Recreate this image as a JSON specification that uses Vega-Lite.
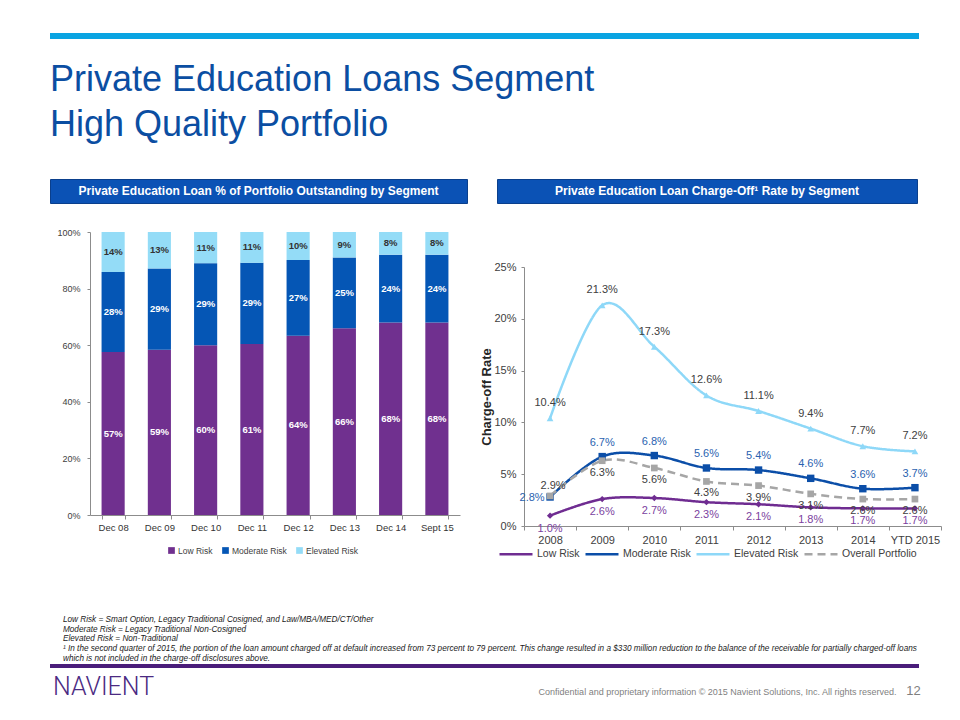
{
  "$schema": "https://vega.github.io/schema/vega-lite/v6.json",
  "background": "white",
  "padding": {"left": 49, "top": 30, "right": 5, "bottom": 0},
  "config": {
    "font": "Liberation Sans",
    "view": {"stroke": null},
    "axis": {"grid": false, "domainColor": "#8C8C8C", "tickColor": "#8C8C8C", "labelColor": "#404040", "titleColor": "#262626", "tickSize": 3},
    "legend": {"labelColor": "#404040"}
  },
  "columns": 1,
  "spacing": 30,
  "concat": [
    {
      "width": 869,
      "height": 6,
      "view": {"fill": "#0AA4E2", "stroke": null},
      "data": {"values": [{}]},
      "mark": {"type": "text"},
      "encoding": {"text": {"value": ""}},
      "title": {
        "text": ["Private Education Loans Segment", "High Quality Portfolio"],
        "orient": "bottom",
        "anchor": "start",
        "fontSize": 36,
        "fontWeight": "normal",
        "font": "Liberation Sans",
        "color": "#0B4EA2",
        "lineHeight": 45,
        "offset": 22,
        "baseline": "top"
      }
    },
    {
      "columns": 1,
      "spacing": 55,
      "concat": [
        {
          "spacing": 0,
          "hconcat": [
            {
              "columns": 1,
              "spacing": 22,
              "concat": [
                {
                  "width": 417,
                  "height": 24,
                  "view": {"fill": "#0B52B5", "stroke": "#0A3F8C"},
                  "data": {"values": [{"t": "Private Education Loan % of Portfolio Outstanding by Segment"}]},
                  "mark": {"type": "text", "color": "white", "fontWeight": "bold", "fontSize": 12, "font": "Liberation Sans"},
                  "encoding": {"text": {"field": "t", "type": "nominal"}}
                },
                {
                  "spacing": 5,
                  "resolve": {"scale": {"color": "independent"}, "legend": {"color": "independent"}},
                  "hconcat": [
                    {
                      "width": 1,
                      "height": 1,
                      "data": {"values": [{}]},
                      "mark": {"type": "text"},
                      "encoding": {"text": {"value": ""}}
                    },
                    {
                      "width": 370,
                      "height": 283,
                      "data": {
                        "values": [
                          {"period": "Dec 08", "seg": "Low Risk", "v": 0.57},
                          {"period": "Dec 08", "seg": "Moderate Risk", "v": 0.28},
                          {"period": "Dec 08", "seg": "Elevated Risk", "v": 0.14},
                          {"period": "Dec 09", "seg": "Low Risk", "v": 0.59},
                          {"period": "Dec 09", "seg": "Moderate Risk", "v": 0.29},
                          {"period": "Dec 09", "seg": "Elevated Risk", "v": 0.13},
                          {"period": "Dec 10", "seg": "Low Risk", "v": 0.60},
                          {"period": "Dec 10", "seg": "Moderate Risk", "v": 0.29},
                          {"period": "Dec 10", "seg": "Elevated Risk", "v": 0.11},
                          {"period": "Dec 11", "seg": "Low Risk", "v": 0.61},
                          {"period": "Dec 11", "seg": "Moderate Risk", "v": 0.29},
                          {"period": "Dec 11", "seg": "Elevated Risk", "v": 0.11},
                          {"period": "Dec 12", "seg": "Low Risk", "v": 0.64},
                          {"period": "Dec 12", "seg": "Moderate Risk", "v": 0.27},
                          {"period": "Dec 12", "seg": "Elevated Risk", "v": 0.10},
                          {"period": "Dec 13", "seg": "Low Risk", "v": 0.66},
                          {"period": "Dec 13", "seg": "Moderate Risk", "v": 0.25},
                          {"period": "Dec 13", "seg": "Elevated Risk", "v": 0.09},
                          {"period": "Dec 14", "seg": "Low Risk", "v": 0.68},
                          {"period": "Dec 14", "seg": "Moderate Risk", "v": 0.24},
                          {"period": "Dec 14", "seg": "Elevated Risk", "v": 0.08},
                          {"period": "Sept 15", "seg": "Low Risk", "v": 0.68},
                          {"period": "Sept 15", "seg": "Moderate Risk", "v": 0.24},
                          {"period": "Sept 15", "seg": "Elevated Risk", "v": 0.08}
                        ]
                      },
                      "encoding": {
                        "x": {
                          "field": "period", "type": "nominal", "sort": null, "title": null,
                          "scale": {"paddingInner": 0.5, "paddingOuter": 0.25},
                          "axis": {"labelAngle": 0, "tickBand": "extent", "labelFontSize": 9.5, "labelColor": "#333333", "tickSize": 4, "labelPadding": 3}
                        }
                      },
                      "resolve": {"scale": {"color": "independent"}},
                      "layer": [
                        {
                          "mark": {"type": "bar"},
                          "encoding": {
                            "y": {
                              "field": "v", "type": "quantitative", "stack": "normalize", "title": null,
                              "axis": {"format": ".0%", "values": [0, 0.1, 0.2, 0.3, 0.4, 0.5, 0.6, 0.7, 0.8, 0.9, 1], "labelFontSize": 9, "labelPadding": 7, "tickSize": 3}
                            },
                            "order": {"field": "v", "type": "quantitative", "sort": "descending"},
                            "color": {
                              "field": "seg", "type": "nominal",
                              "scale": {"domain": ["Low Risk", "Moderate Risk", "Elevated Risk"], "range": ["#70308F", "#0556B5", "#94DCF7"]},
                              "legend": {"orient": "none", "legendX": 77, "legendY": 314, "direction": "horizontal", "title": null, "symbolType": "square", "symbolSize": 45, "labelFontSize": 8.5, "columnPadding": 8, "labelOffset": 2}
                            }
                          }
                        },
                        {
                          "mark": {"type": "text", "fontWeight": "bold", "fontSize": 9.5},
                          "encoding": {
                            "y": {"field": "v", "type": "quantitative", "stack": "normalize", "bandPosition": 0.5},
                            "order": {"field": "v", "type": "quantitative", "sort": "descending"},
                            "color": {
                              "field": "seg", "type": "nominal",
                              "scale": {"domain": ["Low Risk", "Moderate Risk", "Elevated Risk"], "range": ["#FFFFFF", "#FFFFFF", "#333333"]},
                              "legend": null
                            },
                            "text": {"field": "v", "type": "quantitative", "format": ".0%"}
                          }
                        }
                      ]
                    }
                  ]
                }
              ]
            },
            {
              "columns": 1,
              "spacing": 57,
              "concat": [
                {
                  "spacing": 27,
                  "hconcat": [
                    {
                      "width": 1,
                      "height": 1,
                      "data": {"values": [{}]},
                      "mark": {"type": "text"},
                      "encoding": {"text": {"value": ""}}
                    },
                    {
                      "width": 420,
                      "height": 24,
                      "view": {"fill": "#0B52B5", "stroke": "#0A3F8C"},
                      "data": {"values": [{"t": "Private Education Loan Charge-Off¹ Rate by Segment"}]},
                      "mark": {"type": "text", "color": "white", "fontWeight": "bold", "fontSize": 12, "font": "Liberation Sans"},
                      "encoding": {"text": {"field": "t", "type": "nominal"}}
                    }
                  ]
                },
                {
                  "spacing": 11,
                  "resolve": {"scale": {"color": "independent", "strokeDash": "independent"}, "legend": {"color": "independent", "strokeDash": "independent"}},
                  "hconcat": [
                    {
                      "width": 1,
                      "height": 1,
                      "data": {"values": [{}]},
                      "mark": {"type": "text"},
                      "encoding": {"text": {"value": ""}}
                    },
                    {
                      "width": 417,
                      "height": 259,
                      "data": {
                        "values": [
                          {"year": "2008", "series": "Low Risk", "v": 0.010},
                          {"year": "2009", "series": "Low Risk", "v": 0.026},
                          {"year": "2010", "series": "Low Risk", "v": 0.027},
                          {"year": "2011", "series": "Low Risk", "v": 0.023},
                          {"year": "2012", "series": "Low Risk", "v": 0.021},
                          {"year": "2013", "series": "Low Risk", "v": 0.018},
                          {"year": "2014", "series": "Low Risk", "v": 0.017},
                          {"year": "YTD 2015", "series": "Low Risk", "v": 0.017},
                          {"year": "2008", "series": "Moderate Risk", "v": 0.028},
                          {"year": "2009", "series": "Moderate Risk", "v": 0.067},
                          {"year": "2010", "series": "Moderate Risk", "v": 0.068},
                          {"year": "2011", "series": "Moderate Risk", "v": 0.056},
                          {"year": "2012", "series": "Moderate Risk", "v": 0.054},
                          {"year": "2013", "series": "Moderate Risk", "v": 0.046},
                          {"year": "2014", "series": "Moderate Risk", "v": 0.036},
                          {"year": "YTD 2015", "series": "Moderate Risk", "v": 0.037},
                          {"year": "2008", "series": "Elevated Risk", "v": 0.104},
                          {"year": "2009", "series": "Elevated Risk", "v": 0.213},
                          {"year": "2010", "series": "Elevated Risk", "v": 0.173},
                          {"year": "2011", "series": "Elevated Risk", "v": 0.126},
                          {"year": "2012", "series": "Elevated Risk", "v": 0.111},
                          {"year": "2013", "series": "Elevated Risk", "v": 0.094},
                          {"year": "2014", "series": "Elevated Risk", "v": 0.077},
                          {"year": "YTD 2015", "series": "Elevated Risk", "v": 0.072},
                          {"year": "2008", "series": "Overall Portfolio", "v": 0.029},
                          {"year": "2009", "series": "Overall Portfolio", "v": 0.063},
                          {"year": "2010", "series": "Overall Portfolio", "v": 0.056},
                          {"year": "2011", "series": "Overall Portfolio", "v": 0.043},
                          {"year": "2012", "series": "Overall Portfolio", "v": 0.039},
                          {"year": "2013", "series": "Overall Portfolio", "v": 0.031},
                          {"year": "2014", "series": "Overall Portfolio", "v": 0.026},
                          {"year": "YTD 2015", "series": "Overall Portfolio", "v": 0.026}
                        ]
                      },
                      "encoding": {
                        "x": {
                          "field": "year", "type": "nominal", "sort": null, "title": null,
                          "scale": {"type": "band", "paddingInner": 0, "paddingOuter": 0},
                          "axis": {"labelAngle": 0, "tickBand": "extent", "labelFontSize": 11, "tickSize": 4, "labelPadding": 4}
                        },
                        "y": {
                          "field": "v", "type": "quantitative",
                          "scale": {"domain": [0, 0.25]},
                          "axis": {"values": [0, 0.05, 0.1, 0.15, 0.2, 0.25], "format": ".0%", "title": "Charge-off Rate", "titleFontSize": 13, "titleFontWeight": "bold", "titlePadding": 0, "labelFontSize": 11, "labelPadding": 5}
                        }
                      },
                      "layer": [
                        {
                          "mark": {"type": "line", "strokeWidth": 2.5, "interpolate": "cardinal"},
                          "encoding": {
                            "color": {
                              "field": "series", "type": "nominal",
                              "scale": {"domain": ["Low Risk", "Moderate Risk", "Elevated Risk", "Overall Portfolio"], "range": ["#6F2C91", "#0B4EA8", "#8ED8F8", "#A6A6A6"]},
                              "legend": {"orient": "none", "legendX": -26, "legendY": 269, "direction": "horizontal", "title": null, "symbolType": "stroke", "symbolSize": 1089, "symbolStrokeWidth": 2.5, "labelFontSize": 10.5, "columnPadding": 0, "labelOffset": 3}
                            },
                            "strokeDash": {
                              "field": "series", "type": "nominal",
                              "scale": {"domain": ["Low Risk", "Moderate Risk", "Elevated Risk", "Overall Portfolio"], "range": [[1, 0], [1, 0], [1, 0], [8, 5]]},
                              "legend": {"orient": "none", "legendX": -26, "legendY": 269, "direction": "horizontal", "title": null, "symbolType": "stroke", "symbolSize": 1089, "symbolStrokeWidth": 2.5, "labelFontSize": 10.5, "columnPadding": 0, "labelOffset": 3}
                            }
                          }
                        },
                        {
                          "transform": [{"filter": "datum.series === 'Low Risk'"}],
                          "mark": {"type": "point", "shape": "diamond", "filled": true, "size": 40, "opacity": 1, "color": "#6F2C91"}
                        },
                        {
                          "transform": [{"filter": "datum.series === 'Moderate Risk'"}],
                          "mark": {"type": "point", "shape": "square", "filled": true, "size": 55, "opacity": 1, "color": "#0B4EA8"}
                        },
                        {
                          "transform": [{"filter": "datum.series === 'Elevated Risk'"}],
                          "mark": {"type": "point", "shape": "triangle-up", "filled": true, "size": 45, "opacity": 1, "color": "#8ED8F8"}
                        },
                        {
                          "transform": [{"filter": "datum.series === 'Overall Portfolio'"}],
                          "mark": {"type": "point", "shape": "square", "filled": true, "size": 45, "opacity": 1, "color": "#A6A6A6"}
                        },
                        {
                          "transform": [{"filter": "datum.series === 'Elevated Risk'"}],
                          "mark": {"type": "text", "dy": -15, "fontSize": 11, "color": "#404040"},
                          "encoding": {"text": {"field": "v", "type": "quantitative", "format": ".1%"}}
                        },
                        {
                          "transform": [{"filter": "datum.series === 'Moderate Risk' && datum.year !== '2008'"}],
                          "mark": {"type": "text", "dy": -14, "fontSize": 11, "color": "#2A62B0"},
                          "encoding": {"text": {"field": "v", "type": "quantitative", "format": ".1%"}}
                        },
                        {
                          "transform": [{"filter": "datum.series === 'Moderate Risk' && datum.year === '2008'"}],
                          "mark": {"type": "text", "dx": -18, "dy": 1, "fontSize": 11, "color": "#2A62B0"},
                          "encoding": {"text": {"field": "v", "type": "quantitative", "format": ".1%"}}
                        },
                        {
                          "transform": [{"filter": "datum.series === 'Low Risk'"}],
                          "mark": {"type": "text", "dy": 13, "fontSize": 11, "color": "#7B3FA0"},
                          "encoding": {"text": {"field": "v", "type": "quantitative", "format": ".1%"}}
                        },
                        {
                          "transform": [{"filter": "datum.series === 'Overall Portfolio' && datum.year !== '2008'"}],
                          "mark": {"type": "text", "dy": 12, "fontSize": 11, "color": "#404040"},
                          "encoding": {"text": {"field": "v", "type": "quantitative", "format": ".1%"}}
                        },
                        {
                          "transform": [{"filter": "datum.series === 'Overall Portfolio' && datum.year === '2008'"}],
                          "mark": {"type": "text", "dx": 3, "dy": -10, "fontSize": 11, "color": "#404040"},
                          "encoding": {"text": {"field": "v", "type": "quantitative", "format": ".1%"}}
                        }
                      ]
                    }
                  ]
                }
              ]
            }
          ]
        },
        {
          "columns": 1,
          "spacing": 4,
          "concat": [
            {
              "width": 869,
              "height": 4,
              "view": {"fill": "#4A1D7A", "stroke": null},
              "data": {"values": [{}]},
              "mark": {"type": "text"},
              "encoding": {"text": {"value": ""}},
              "title": {
                "text": [
                  "Low Risk = Smart Option, Legacy Traditional Cosigned, and Law/MBA/MED/CT/Other",
                  "Moderate Risk = Legacy Traditional Non-Cosigned",
                  "Elevated Risk = Non-Traditional",
                  "¹ In the second quarter of 2015, the portion of the loan amount charged off at default increased from 73 percent to 79 percent. This change resulted in a $330 million reduction to the balance of the receivable for partially charged-off loans",
                  "which is not included in the charge-off disclosures above."
                ],
                "orient": "top",
                "anchor": "start",
                "dx": 13,
                "fontSize": 8.2,
                "fontStyle": "italic",
                "fontWeight": "normal",
                "font": "Liberation Sans",
                "color": "#1A1A1A",
                "lineHeight": 9.7,
                "offset": -3
              }
            },
            {
              "spacing": 372,
              "hconcat": [
                {
                  "width": 107,
                  "height": 36,
                  "data": {"values": [{"t": "NAVIENT"}]},
                  "mark": {"type": "text", "font": "Roboto", "fontWeight": 300, "fontSize": 25, "color": "#4B2A82", "baseline": "alphabetic"},
                  "encoding": {"text": {"field": "t", "type": "nominal"}}
                },
                {
                  "spacing": 0,
                  "hconcat": [
                    {
                      "width": 377,
                      "height": 36,
                      "data": {"values": [{"t": "Confidential and proprietary information © 2015 Navient Solutions, Inc. All rights reserved."}]},
                      "mark": {"type": "text", "fontSize": 9, "color": "#7F7F7F", "baseline": "alphabetic"},
                      "encoding": {"text": {"field": "t", "type": "nominal"}}
                    },
                    {
                      "width": 13,
                      "height": 36,
                      "data": {"values": [{"t": "12"}]},
                      "mark": {"type": "text", "fontSize": 13, "color": "#7F7F7F", "baseline": "alphabetic"},
                      "encoding": {"text": {"field": "t", "type": "nominal"}}
                    }
                  ]
                }
              ]
            }
          ]
        }
      ]
    }
  ]
}
